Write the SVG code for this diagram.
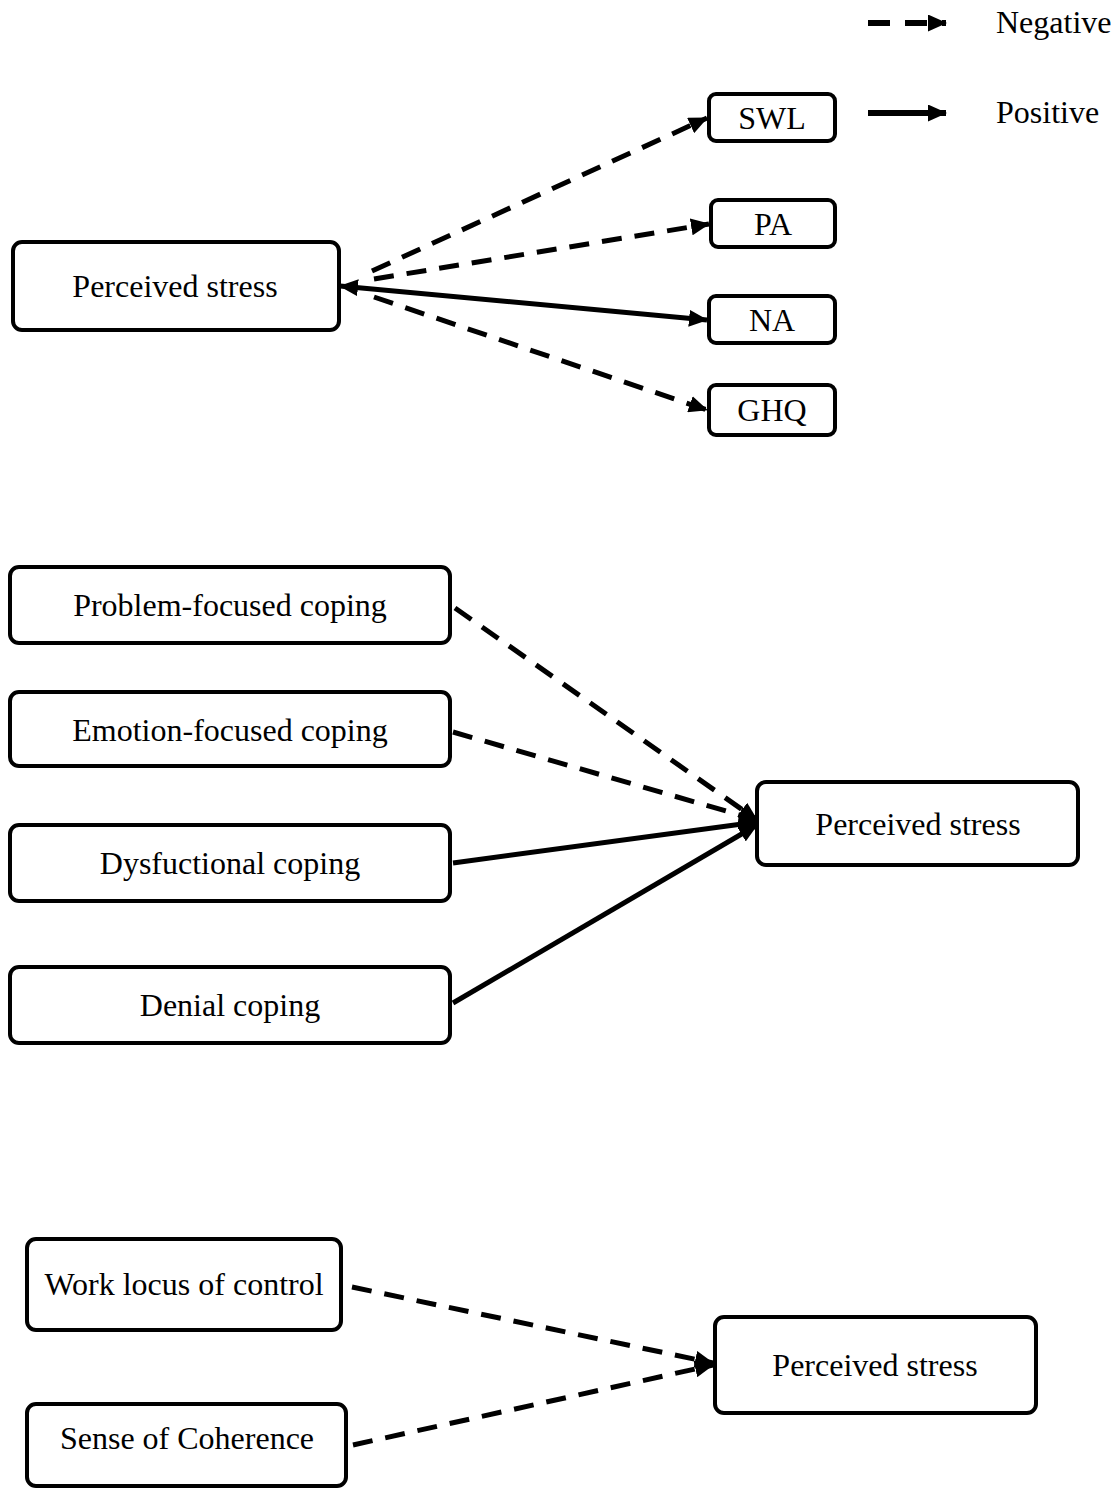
<svg xmlns="http://www.w3.org/2000/svg" width="1117" height="1488" viewBox="0 0 1117 1488">
<style>
.box{fill:#fff;stroke:#000;stroke-width:4}
.lbl{font-family:"Liberation Serif","Times New Roman",serif;font-size:32px;fill:#000;text-anchor:middle}
.leg{font-family:"Liberation Serif","Times New Roman",serif;font-size:32px;fill:#000}
.pos{fill:none;stroke:#000;stroke-width:5;marker-end:url(#ah)}
.neg{fill:none;stroke:#000;stroke-width:5;stroke-dasharray:20 13;marker-end:url(#ah)}
</style>
<defs>
<marker id="ah" markerUnits="userSpaceOnUse" markerWidth="19" markerHeight="17" refX="18" refY="8.5" orient="auto-start-reverse">
<path d="M0,0 L19,8.5 L0,17 z" fill="#000"/>
</marker>
</defs>
<rect width="1117" height="1488" fill="#fff"/>
<g id="legend">
<line x1="868" y1="23" x2="946" y2="23" stroke="#000" stroke-width="6" stroke-dasharray="22 15" marker-end="url(#ah)"/>
<text class="leg" x="996" y="33">Negative</text>
<line x1="868" y1="113" x2="946" y2="113" stroke="#000" stroke-width="6" marker-end="url(#ah)"/>
<text class="leg" x="996" y="123">Positive</text>
</g>
<g id="connectors">
<line class="neg" x1="372" y1="271" x2="707" y2="118"/>
<line class="neg" x1="374" y1="279" x2="709" y2="224"/>
<line class="pos" x1="340" y1="286" x2="707" y2="320" marker-start="url(#ah)"/>
<line class="neg" x1="374" y1="297" x2="707" y2="410"/>
<line class="neg" x1="455" y1="608" x2="757" y2="820"/>
<line class="neg" x1="453" y1="732" x2="757" y2="820"/>
<line class="pos" x1="453" y1="863" x2="757" y2="822"/>
<line class="pos" x1="453" y1="1003" x2="757" y2="825"/>
<line class="neg" x1="352" y1="1287" x2="713" y2="1363"/>
<line class="neg" x1="353" y1="1445" x2="713" y2="1365"/>
</g>
<g id="ps1"><rect class="box" x="13" y="242" width="326" height="88" rx="9"/><text class="lbl" x="175" y="297">Perceived stress</text></g>
<g id="swl"><rect class="box" x="709" y="94" width="126" height="47" rx="7"/><text class="lbl" x="772" y="129">SWL</text></g>
<g id="pa"><rect class="box" x="711" y="200" width="124" height="47" rx="7"/><text class="lbl" x="773" y="235">PA</text></g>
<g id="na"><rect class="box" x="709" y="296" width="126" height="47" rx="7"/><text class="lbl" x="772" y="331">NA</text></g>
<g id="ghq"><rect class="box" x="709" y="385" width="126" height="50" rx="7"/><text class="lbl" x="772" y="421">GHQ</text></g>
<g id="pfc"><rect class="box" x="10" y="567" width="440" height="76" rx="9"/><text class="lbl" x="230" y="616">Problem-focused coping</text></g>
<g id="efc"><rect class="box" x="10" y="692" width="440" height="74" rx="9"/><text class="lbl" x="230" y="741">Emotion-focused coping</text></g>
<g id="dfc"><rect class="box" x="10" y="825" width="440" height="76" rx="9"/><text class="lbl" x="230" y="874">Dysfuctional coping</text></g>
<g id="dnc"><rect class="box" x="10" y="967" width="440" height="76" rx="9"/><text class="lbl" x="230" y="1016">Denial coping</text></g>
<g id="ps2"><rect class="box" x="757" y="782" width="321" height="83" rx="9"/><text class="lbl" x="918" y="835">Perceived stress</text></g>
<g id="wlc"><rect class="box" x="27" y="1239" width="314" height="91" rx="9"/><text class="lbl" x="184" y="1295">Work locus of control</text></g>
<g id="soc"><rect class="box" x="27" y="1404" width="319" height="82" rx="9"/><text class="lbl" x="187" y="1449">Sense of Coherence</text></g>
<g id="ps3"><rect class="box" x="715" y="1317" width="321" height="96" rx="9"/><text class="lbl" x="875" y="1376">Perceived stress</text></g>
</svg>
